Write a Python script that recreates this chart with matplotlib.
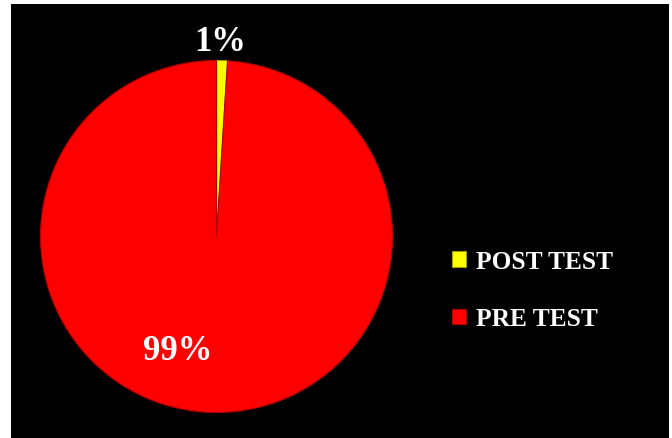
import matplotlib.pyplot as plt
from matplotlib.patches import Rectangle

labels = ['POST TEST', 'PRE TEST']
values = [1, 99]
colors = ['#ffff00', '#ff0000']
pct_text = ['1%', '99%']

W, H = 672, 439
fig = plt.figure(figsize=(W / 100, H / 100), dpi=100)
fig.patch.set_facecolor('white')
ax = fig.add_axes([0, 0, 1, 1])
ax.set_xlim(0, W)
ax.set_ylim(0, H)
ax.axis('off')

# black panel
ax.add_patch(Rectangle((11, 0), 658, 434, facecolor='black', edgecolor='none', zorder=0))

cx, cy, r = 216.5, H - 237.5, 176
wedges, _ = ax.pie(values, colors=colors, startangle=90, counterclock=False,
                   center=(cx, cy), radius=r, frame=True,
                   wedgeprops=dict(edgecolor='#b00000', linewidth=0.8))
wedges[0].set_edgecolor('#a0a000')
ax.set_xlim(0, W)
ax.set_ylim(0, H)
ax.set_aspect('auto')
ax.axis('off')

font = dict(family='Liberation Serif', weight='bold', color='white')
ax.text(220, H - 42, pct_text[0], fontsize=25, ha='center', va='center', **font)
ax.text(178, H - 352, pct_text[1], fontsize=25, ha='center', va='center', **font)

leg = ax.legend(wedges, labels, loc='upper left', bbox_to_anchor=(429 / W, 1 - 228 / H),
                frameon=False, handlelength=0.55, handleheight=0.55, handletextpad=0.4,
                labelspacing=1.35, prop=dict(family='Liberation Serif', weight='bold', size=18.3))
for t in leg.get_texts():
    t.set_color('white')

fig.savefig('out.png', dpi=100, facecolor=fig.get_facecolor())
